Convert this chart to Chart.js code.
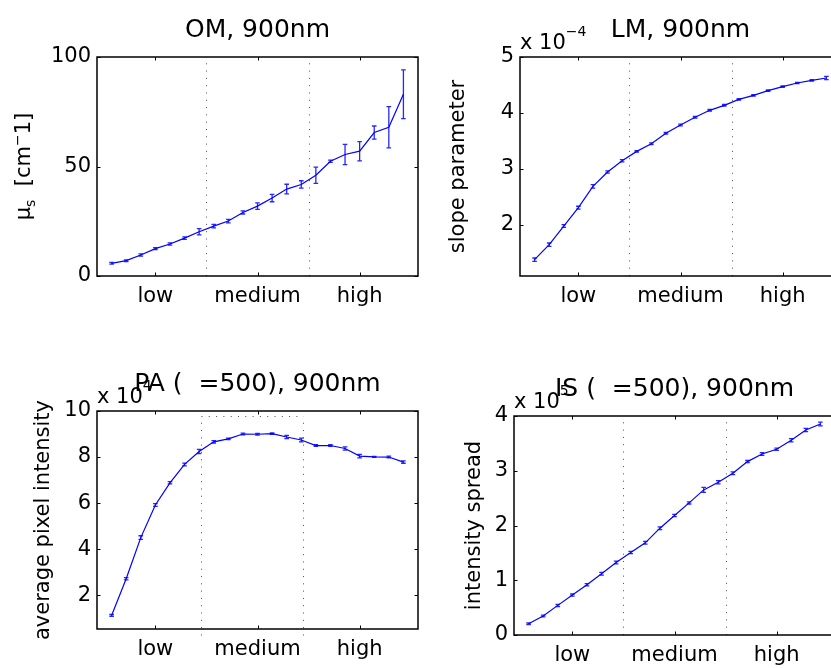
<!DOCTYPE html>
<html>
<head>
<meta charset="utf-8">
<script src="https://cdn.jsdelivr.net/npm/chart.js@4.4.0/dist/chart.umd.min.js"></script>
<style>
  html, body { margin: 0; padding: 0; background: #fff; overflow: hidden; }
  body { position: relative; width: 831px; height: 668px; }
  canvas { position: absolute; }
</style>
</head>
<body>
<canvas id="omChart" width="425" height="330" style="left:0;top:0"></canvas>
<canvas id="lmChart" width="425" height="330" style="left:420px;top:0"></canvas>
<canvas id="paChart" width="425" height="328" style="left:0;top:340px"></canvas>
<canvas id="isChart" width="425" height="328" style="left:420px;top:340px"></canvas>
<script>
// sample index along the x axis
const samples = [1, 2, 3, 4, 5, 6, 7, 8, 9, 10, 11, 12, 13, 14, 15, 16, 17, 18, 19, 20, 21];
const tickPositions = [4, 11, 18];
const tickLabels = ['low', 'medium', 'high'];
const regionBounds = [7.5, 14.5];

// OM: mu_s [cm^-1]
const omMean = [5.8, 7.0, 9.6, 12.5, 14.6, 17.3, 20.2, 22.8, 25.1, 29.0, 31.9, 35.6, 39.7, 41.8, 46.0, 52.4, 55.5, 57.0, 65.5, 67.9, 83.0];
const omErr = [0.4, 0.4, 0.5, 0.5, 0.5, 0.6, 1.4, 0.8, 0.8, 0.7, 1.5, 1.7, 2.2, 1.7, 3.7, 0.5, 4.6, 4.4, 3.0, 9.4, 11.1];
const omTicks = [0, 50, 100];

// LM: slope parameter (x 10^-4)
const lmMean = [1.381, 1.649, 1.982, 2.310, 2.690, 2.946, 3.149, 3.315, 3.452, 3.637, 3.786, 3.923, 4.048, 4.137, 4.244, 4.315, 4.399, 4.470, 4.536, 4.583, 4.625];
const lmErr = [0.03, 0.03, 0.025, 0.025, 0.03, 0.02, 0.02, 0.015, 0.015, 0.015, 0.015, 0.015, 0.015, 0.015, 0.012, 0.012, 0.012, 0.012, 0.012, 0.012, 0.03];
const lmTicks = [2, 3, 4, 5];

// PA: average pixel intensity (x 10^4)
const paMean = [1.12, 2.71, 4.50, 5.92, 6.88, 7.68, 8.24, 8.66, 8.79, 9.00, 8.99, 9.02, 8.87, 8.74, 8.50, 8.50, 8.37, 8.04, 8.01, 8.00, 7.78];
const paErr = [0.04, 0.05, 0.08, 0.06, 0.05, 0.06, 0.09, 0.05, 0.03, 0.04, 0.04, 0.03, 0.07, 0.08, 0.04, 0.04, 0.07, 0.08, 0.02, 0.04, 0.05];
const paTicks = [2, 4, 6, 8, 10];

// IS: intensity spread (x 10^5)
const isMean = [0.207, 0.347, 0.541, 0.729, 0.918, 1.119, 1.325, 1.508, 1.684, 1.951, 2.182, 2.413, 2.650, 2.790, 2.954, 3.167, 3.307, 3.392, 3.556, 3.745, 3.854];
const isErr = [0.015, 0.015, 0.02, 0.02, 0.02, 0.025, 0.025, 0.02, 0.025, 0.025, 0.02, 0.02, 0.045, 0.03, 0.025, 0.02, 0.025, 0.02, 0.03, 0.03, 0.035];
const isTicks = [0, 1, 2, 3, 4];

const FONT = 'DejaVu Sans';

// matlab-ish decorations: frame, inward ticks, error bars, dotted region lines, titles
const matlabLook = {
  id: 'matlabLook',
  beforeDatasetsDraw(chart, args, opts) {
    const {ctx, chartArea: a, scales: {x, y}} = chart;
    ctx.save();
    ctx.strokeStyle = 'rgba(0,0,0,0.7)';
    ctx.lineWidth = 1;
    ctx.setLineDash([1, 6.3]);
    const top = opts.dotTop != null ? y.getPixelForValue(opts.dotTop) : a.top;
    const bottom = opts.dotBottom != null ? y.getPixelForValue(opts.dotBottom) : a.bottom;
    const xs = opts.bounds.map(b => Math.round(x.getPixelForValue(b)) + 0.5);
    xs.forEach(px => {
      ctx.beginPath();
      ctx.moveTo(px, bottom);
      ctx.lineTo(px, top);
      ctx.stroke();
    });
    if (opts.dotTop != null) {
      ctx.beginPath();
      ctx.moveTo(xs[0], Math.round(top) + 0.5);
      ctx.lineTo(xs[1], Math.round(top) + 0.5);
      ctx.stroke();
    }
    ctx.restore();
  },
  afterDatasetsDraw(chart, args, opts) {
    const {ctx, scales: {x, y}} = chart;
    const data = chart.data.datasets[0].data;
    ctx.save();
    ctx.strokeStyle = 'rgba(0,0,255,0.85)';
    ctx.lineWidth = 1.3;
    data.forEach((pt, i) => {
      const e = opts.err[i];
      const px = x.getPixelForValue(pt.x);
      const y1 = y.getPixelForValue(pt.y - e);
      const y2 = y.getPixelForValue(pt.y + e);
      ctx.beginPath();
      ctx.moveTo(px, y1); ctx.lineTo(px, y2);
      ctx.moveTo(px - 2.3, y1); ctx.lineTo(px + 2.3, y1);
      ctx.moveTo(px - 2.3, y2); ctx.lineTo(px + 2.3, y2);
      ctx.stroke();
    });
    ctx.restore();
  },
  afterDraw(chart, args, opts) {
    const {ctx, chartArea: a, scales: {x, y}} = chart;
    ctx.save();
    // frame
    ctx.strokeStyle = '#000';
    ctx.lineWidth = 1.5;
    ctx.strokeRect(a.left, a.top, a.right - a.left, a.bottom - a.top);
    // inward ticks on all four sides
    ctx.lineWidth = 1;
    x.ticks.forEach(t => {
      const px = Math.round(x.getPixelForValue(t.value)) + 0.5;
      ctx.beginPath();
      ctx.moveTo(px, a.bottom); ctx.lineTo(px, a.bottom - 3.5);
      ctx.moveTo(px, a.top); ctx.lineTo(px, a.top + 3.5);
      ctx.stroke();
    });
    y.ticks.forEach(t => {
      const py = Math.round(y.getPixelForValue(t.value)) + 0.5;
      ctx.beginPath();
      ctx.moveTo(a.left, py); ctx.lineTo(a.left + 3.5, py);
      ctx.moveTo(a.right, py); ctx.lineTo(a.right - 3.5, py);
      ctx.stroke();
    });
    ctx.fillStyle = '#000';
    // title
    ctx.font = '25px "' + FONT + '"';
    ctx.textAlign = 'center';
    ctx.textBaseline = 'alphabetic';
    ctx.fillText(opts.title, (a.left + a.right) / 2, a.top - 20);
    // axis multiplier
    if (opts.exponent) {
      ctx.textAlign = 'left';
      ctx.font = '21px "' + FONT + '"';
      const base = 'x 10';
      ctx.fillText(base, a.left, a.top - 8.4);
      const w = ctx.measureText(base).width;
      ctx.font = '14px "' + FONT + '"';
      ctx.fillText(opts.exponent, a.left + w, a.top - 21.5);
    }
    // y label with sub/superscript (OM panel)
    if (opts.yParts) {
      let total = 0;
      opts.yParts.forEach(p => {
        ctx.font = p.size + 'px "' + FONT + '"';
        p.w = ctx.measureText(p.text).width;
        total += p.w;
      });
      ctx.translate(opts.yLabelX, (a.top + a.bottom) / 2);
      ctx.rotate(-Math.PI / 2);
      ctx.textAlign = 'left';
      let cx = -total / 2;
      opts.yParts.forEach(p => {
        ctx.font = p.size + 'px "' + FONT + '"';
        ctx.fillText(p.text, cx, p.shift);
        cx += p.w;
      });
    }
    ctx.restore();
  }
};

function makeChart(id, cfg) {
  const yTitle = cfg.yTitle
    ? {display: true, text: cfg.yTitle, color: '#000', font: {family: FONT, size: 21}, padding: {top: cfg.yTitlePad, bottom: 0}}
    : {display: false};
  return new Chart(document.getElementById(id), {
    type: 'line',
    data: {
      datasets: [{
        data: cfg.mean.map((v, i) => ({x: samples[i], y: v})),
        borderColor: '#0000ff',
        borderWidth: 1.2,
        pointRadius: 0,
        tension: 0,
        fill: false
      }]
    },
    options: {
      responsive: false,
      animation: false,
      layout: {padding: cfg.padding},
      plugins: {
        legend: {display: false},
        tooltip: {enabled: false},
        matlabLook: {
          title: cfg.title,
          exponent: cfg.exponent,
          err: cfg.err,
          bounds: cfg.bounds || regionBounds,
          dotTop: cfg.dotTop,
          dotBottom: cfg.dotBottom,
          yParts: cfg.yParts,
          yLabelX: cfg.yLabelX
        }
      },
      scales: {
        x: {
          type: 'linear',
          min: 0,
          max: 22,
          grid: {display: false, drawTicks: false},
          border: {display: false},
          afterBuildTicks: s => { s.ticks = tickPositions.map(v => ({value: v})); },
          afterFit: s => { s.height = cfg.xHeight; },
          ticks: {
            callback: (v, i) => tickLabels[i],
            color: '#000',
            font: {family: FONT, size: 21},
            padding: 8,
            maxRotation: 0,
            autoSkip: false
          }
        },
        y: {
          min: cfg.yMin,
          max: cfg.yMax,
          grid: {display: false, drawTicks: false},
          border: {display: false},
          afterBuildTicks: s => { s.ticks = cfg.yTicks.map(v => ({value: v})); },
          afterFit: s => { s.width = cfg.yWidth; },
          ticks: {
            callback: v => String(v),
            color: '#000',
            font: {family: FONT, size: 21},
            padding: 6
          },
          title: yTitle
        }
      }
    },
    plugins: [matlabLook]
  });
}

makeChart('omChart', {
  title: 'OM, 900nm',
  mean: omMean, err: omErr,
  yMin: 0, yMax: 100, yTicks: omTicks,
  padding: {top: 57, right: 7, bottom: 0, left: 0},
  yWidth: 97, xHeight: 54,
  yLabelX: 30,
  yParts: [
    {text: 'μ', size: 21, shift: 0},
    {text: 's', size: 14, shift: 5},
    {text: '  [cm', size: 21, shift: 0},
    {text: '−', size: 14, shift: -8},
    {text: '1]', size: 21, shift: 0}
  ]
});

makeChart('lmChart', {
  title: 'LM, 900nm',
  exponent: '−4',
  mean: lmMean, err: lmErr,
  yMin: 1.09, yMax: 5, yTicks: lmTicks,
  padding: {top: 57, right: 4, bottom: 0, left: 0},
  yWidth: 100, xHeight: 54,
  yTitle: 'slope parameter', yTitlePad: 25.8
});

makeChart('paChart', {
  title: 'PA (  =500), 900nm',
  exponent: '4',
  mean: paMean, err: paErr,
  yMin: 0.53, yMax: 10, yTicks: paTicks,
  padding: {top: 71, right: 7, bottom: 0, left: 0},
  yWidth: 97, xHeight: 39,
  yTitle: 'average pixel intensity', yTitlePad: 30.6,
  bounds: [7.14, 14.12], dotTop: 9.77, dotBottom: 0.25
});

makeChart('isChart', {
  title: 'IS (  =500), 900nm',
  exponent: '5',
  mean: isMean, err: isErr,
  yMin: 0, yMax: 4, yTicks: isTicks,
  padding: {top: 76, right: 10, bottom: 0, left: 0},
  yWidth: 94, xHeight: 33,
  yTitle: 'intensity spread', yTitlePad: 41.6
});
</script>
</body>
</html>
